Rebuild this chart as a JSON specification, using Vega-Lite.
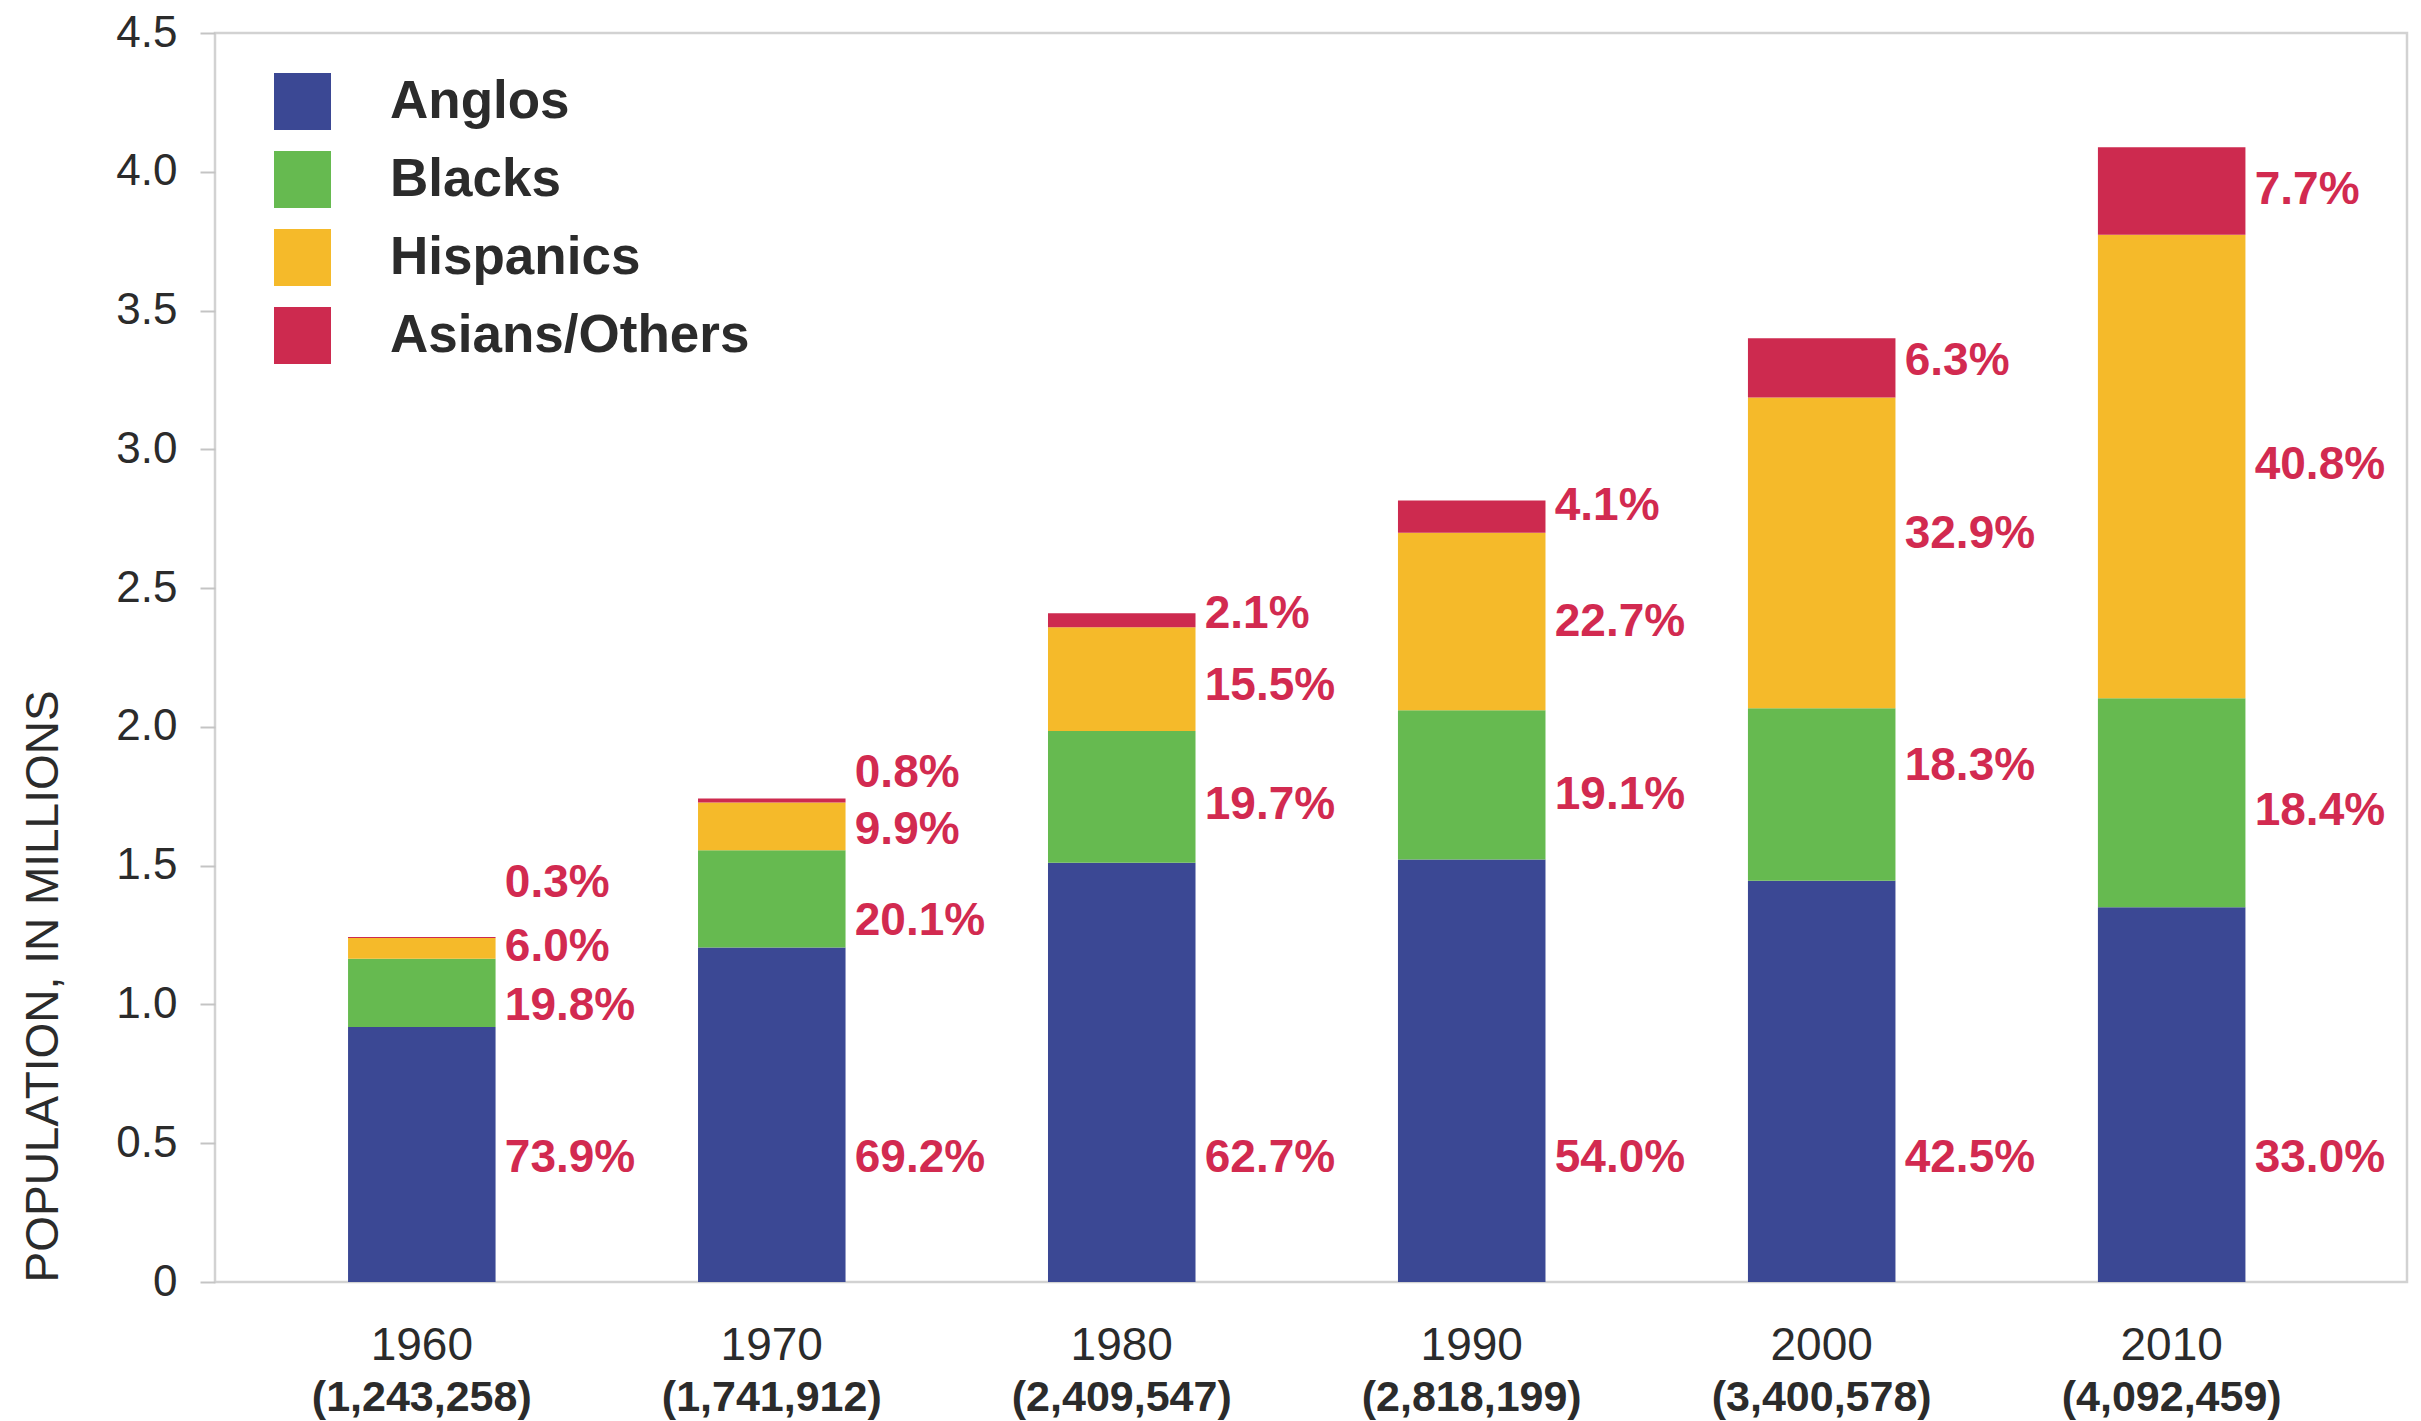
{
  "$schema": "https://vega.github.io/schema/vega-lite/v6.json",
  "width": 2192,
  "height": 1249,
  "autosize": "none",
  "padding": {"left": 215, "top": 33, "right": 14, "bottom": 139},
  "background": "white",
  "config": {
    "font": "Liberation Sans",
    "view": {"stroke": "#d2d2d2", "strokeWidth": 2.5}
  },
  "datasets": {
    "rows": [
      {"year": "1960", "group": "Anglos", "k": 1, "value": 0.91877, "pct": "73.9%", "labelPos": 0.445, "total": "(1,243,258)"},
      {"year": "1960", "group": "Blacks", "k": 2, "value": 0.24617, "pct": "19.8%", "labelPos": 0.994, "total": "(1,243,258)"},
      {"year": "1960", "group": "Hispanics", "k": 3, "value": 0.07460, "pct": "6.0%", "labelPos": 1.208, "total": "(1,243,258)"},
      {"year": "1960", "group": "Asians/Others", "k": 4, "value": 0.00373, "pct": "0.3%", "labelPos": 1.438, "total": "(1,243,258)"},
      {"year": "1970", "group": "Anglos", "k": 1, "value": 1.20540, "pct": "69.2%", "labelPos": 0.445, "total": "(1,741,912)"},
      {"year": "1970", "group": "Blacks", "k": 2, "value": 0.35012, "pct": "20.1%", "labelPos": 1.299, "total": "(1,741,912)"},
      {"year": "1970", "group": "Hispanics", "k": 3, "value": 0.17245, "pct": "9.9%", "labelPos": 1.628, "total": "(1,741,912)"},
      {"year": "1970", "group": "Asians/Others", "k": 4, "value": 0.01394, "pct": "0.8%", "labelPos": 1.834, "total": "(1,741,912)"},
      {"year": "1980", "group": "Anglos", "k": 1, "value": 1.51079, "pct": "62.7%", "labelPos": 0.445, "total": "(2,409,547)"},
      {"year": "1980", "group": "Blacks", "k": 2, "value": 0.47468, "pct": "19.7%", "labelPos": 1.720, "total": "(2,409,547)"},
      {"year": "1980", "group": "Hispanics", "k": 3, "value": 0.37348, "pct": "15.5%", "labelPos": 2.149, "total": "(2,409,547)"},
      {"year": "1980", "group": "Asians/Others", "k": 4, "value": 0.05060, "pct": "2.1%", "labelPos": 2.405, "total": "(2,409,547)"},
      {"year": "1990", "group": "Anglos", "k": 1, "value": 1.52183, "pct": "54.0%", "labelPos": 0.445, "total": "(2,818,199)"},
      {"year": "1990", "group": "Blacks", "k": 2, "value": 0.53828, "pct": "19.1%", "labelPos": 1.754, "total": "(2,818,199)"},
      {"year": "1990", "group": "Hispanics", "k": 3, "value": 0.63973, "pct": "22.7%", "labelPos": 2.377, "total": "(2,818,199)"},
      {"year": "1990", "group": "Asians/Others", "k": 4, "value": 0.11555, "pct": "4.1%", "labelPos": 2.795, "total": "(2,818,199)"},
      {"year": "2000", "group": "Anglos", "k": 1, "value": 1.44525, "pct": "42.5%", "labelPos": 0.445, "total": "(3,400,578)"},
      {"year": "2000", "group": "Blacks", "k": 2, "value": 0.62231, "pct": "18.3%", "labelPos": 1.860, "total": "(3,400,578)"},
      {"year": "2000", "group": "Hispanics", "k": 3, "value": 1.11879, "pct": "32.9%", "labelPos": 2.695, "total": "(3,400,578)"},
      {"year": "2000", "group": "Asians/Others", "k": 4, "value": 0.21424, "pct": "6.3%", "labelPos": 3.318, "total": "(3,400,578)"},
      {"year": "2010", "group": "Anglos", "k": 1, "value": 1.35051, "pct": "33.0%", "labelPos": 0.445, "total": "(4,092,459)"},
      {"year": "2010", "group": "Blacks", "k": 2, "value": 0.75301, "pct": "18.4%", "labelPos": 1.698, "total": "(4,092,459)"},
      {"year": "2010", "group": "Hispanics", "k": 3, "value": 1.66972, "pct": "40.8%", "labelPos": 2.945, "total": "(4,092,459)"},
      {"year": "2010", "group": "Asians/Others", "k": 4, "value": 0.31512, "pct": "7.7%", "labelPos": 3.936, "total": "(4,092,459)"}
    ]
  },
  "data": {"name": "rows"},
  "encoding": {
    "x": {
      "field": "year",
      "type": "ordinal",
      "scale": {"paddingInner": 0.5785, "paddingOuter": 0.4209, "align": 0.4516},
      "axis": {
        "title": null,
        "domain": false,
        "ticks": false,
        "labelAngle": 0,
        "labelFontSize": 46,
        "labelColor": "#2b2b2b",
        "labelPadding": 41
      }
    }
  },
  "layer": [
    {
      "mark": {"type": "bar"},
      "encoding": {
        "y": {
          "field": "value",
          "type": "quantitative",
          "stack": "zero",
          "title": "POPULATION, IN MILLIONS",
          "scale": {"domain": [0, 4.5], "nice": false, "zero": true},
          "axis": {
            "values": [0, 0.5, 1, 1.5, 2, 2.5, 3, 3.5, 4, 4.5],
            "labelExpr": "datum.value == 0 ? '0' : format(datum.value, '.1f')",
            "grid": false,
            "domain": false,
            "ticks": true,
            "tickSize": 15,
            "tickColor": "#c4c4c4",
            "tickWidth": 2,
            "labelPadding": 23,
            "labelFontSize": 44,
            "labelColor": "#2b2b2b",
            "titleFontSize": 46,
            "titleFontWeight": "normal",
            "titleColor": "#2b2b2b",
            "titleAnchor": "start",
            "titlePadding": 48
          }
        },
        "color": {
          "field": "group",
          "type": "nominal",
          "scale": {
            "domain": ["Anglos", "Blacks", "Hispanics", "Asians/Others"],
            "range": ["#3b4894", "#66ba50", "#f5ba2a", "#cd2a4f"]
          },
          "legend": {
            "orient": "none",
            "legendX": 59,
            "legendY": 40,
            "title": null,
            "padding": 0,
            "symbolType": "square",
            "symbolSize": 3249,
            "symbolStrokeWidth": 0,
            "symbolOpacity": 1,
            "labelFontSize": 53,
            "labelFontWeight": "bold",
            "labelColor": "#2b2b2b",
            "labelOffset": 59,
            "labelLimit": 0,
            "labelBaseline": "middle",
            "rowPadding": 21
          }
        },
        "order": {"field": "k", "type": "quantitative"}
      }
    },
    {
      "mark": {
        "type": "text",
        "align": "left",
        "baseline": "middle",
        "dx": 83,
        "fontSize": 46,
        "fontWeight": "bold",
        "color": "#d22a50"
      },
      "encoding": {
        "y": {"field": "labelPos", "type": "quantitative", "title": "POPULATION, IN MILLIONS"},
        "text": {"field": "pct", "type": "nominal"}
      }
    },
    {
      "transform": [{"filter": "datum.group === 'Anglos'"}],
      "mark": {
        "type": "text",
        "align": "center",
        "baseline": "middle",
        "dy": 116,
        "fontSize": 43,
        "fontWeight": "bold",
        "color": "#2b2b2b"
      },
      "encoding": {
        "y": {"datum": 0},
        "text": {"field": "total", "type": "nominal"}
      }
    }
  ]
}
